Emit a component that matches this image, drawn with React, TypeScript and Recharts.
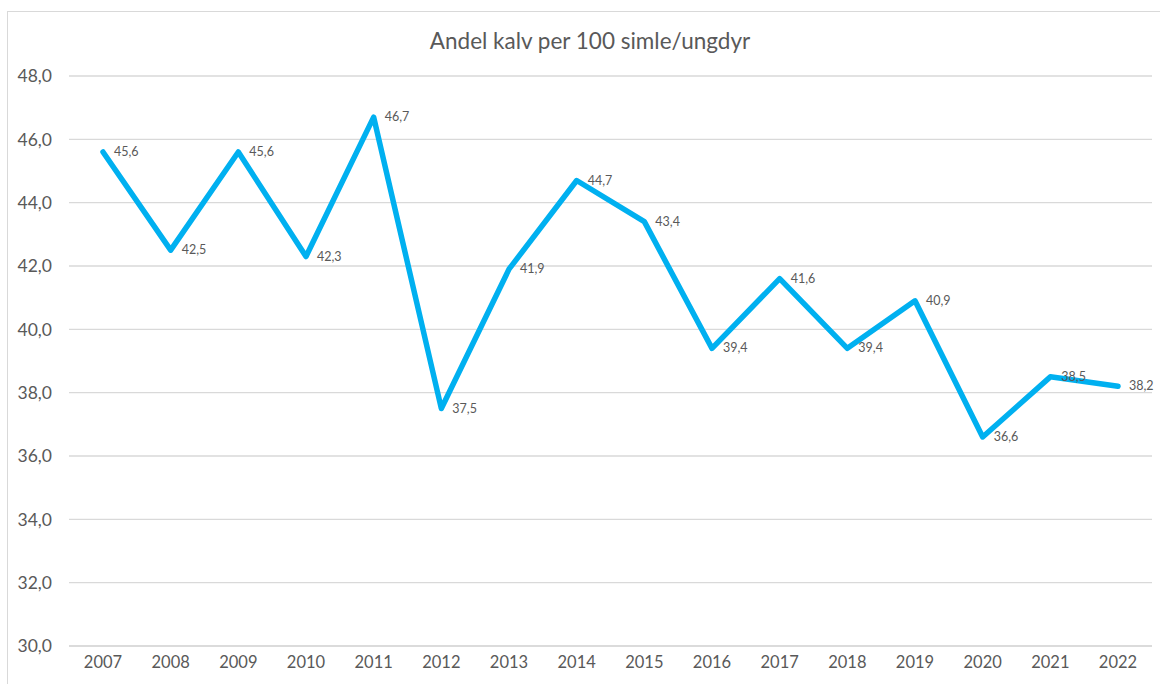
import React from "react";
import { LineChart, Line, XAxis, YAxis, CartesianGrid, LabelList } from "recharts";

const years = ["2007","2008","2009","2010","2011","2012","2013","2014","2015","2016","2017","2018","2019","2020","2021","2022"];
const values = [45.6, 42.5, 45.6, 42.3, 46.7, 37.5, 41.9, 44.7, 43.4, 39.4, 41.6, 39.4, 40.9, 36.6, 38.5, 38.2];
const yTicks = [30, 32, 34, 36, 38, 40, 42, 44, 46, 48];
const title = "Andel kalv per 100 simle/ungdyr";

const data = years.map((y, i) => ({ year: y, value: values[i] }));
const fmt = (v: number) => v.toFixed(1).replace(".", ",");
const FONT = "Lato, 'Open Sans', sans-serif";

const ValueLabel = (props: any) => {
  const { x, y, value } = props;
  return (
    <text x={x + 11} y={y + 4} fontSize={12.5} fill="#595959" fontFamily={FONT}>
      {fmt(value)}
    </text>
  );
};

export default function App() {
  return (
    <div style={{ position: "absolute", left: 0, top: 0, width: 1160, height: 684, overflow: "hidden", background: "#fff" }}>
      <div style={{ position: "absolute", left: 7, top: 11, width: 1170, height: 700, border: "1px solid #D9D9D9", boxSizing: "border-box" }} />
      <div style={{ position: "absolute", left: 0, top: 27, width: 1180, textAlign: "center", fontFamily: FONT, fontSize: 22.5, color: "#595959" }}>
        {title}
      </div>
      <div style={{ position: "absolute", left: 0, top: 0 }}>
        <LineChart width={1160} height={684} data={data} margin={{ top: 76, right: 8, bottom: 8, left: 9 }}>
          <CartesianGrid horizontal vertical={false} stroke="#D9D9D9" strokeWidth={1.3} />
          <XAxis
            dataKey="year"
            padding={{ left: 34, right: 34 }}
            axisLine={{ stroke: "#D9D9D9", strokeWidth: 1.3 }}
            tickLine={false}
            height={30}
            tick={{ fill: "#595959", fontSize: 16.5, fontFamily: FONT }}
            tickMargin={4}
            interval={0}
          />
          <YAxis
            domain={[30, 48]}
            ticks={yTicks}
            tickFormatter={fmt}
            axisLine={false}
            tickLine={false}
            width={60}
            tick={{ fill: "#595959", fontSize: 17.5, fontFamily: FONT }}
            tickMargin={11}
          />
          <Line
            type="linear"
            dataKey="value"
            stroke="#00B0F0"
            strokeWidth={5.5}
            strokeLinejoin="round"
            strokeLinecap="round"
            dot={false}
            activeDot={false}
            isAnimationActive={false}
          >
            <LabelList dataKey="value" content={ValueLabel} />
          </Line>
        </LineChart>
      </div>
    </div>
  );
}
